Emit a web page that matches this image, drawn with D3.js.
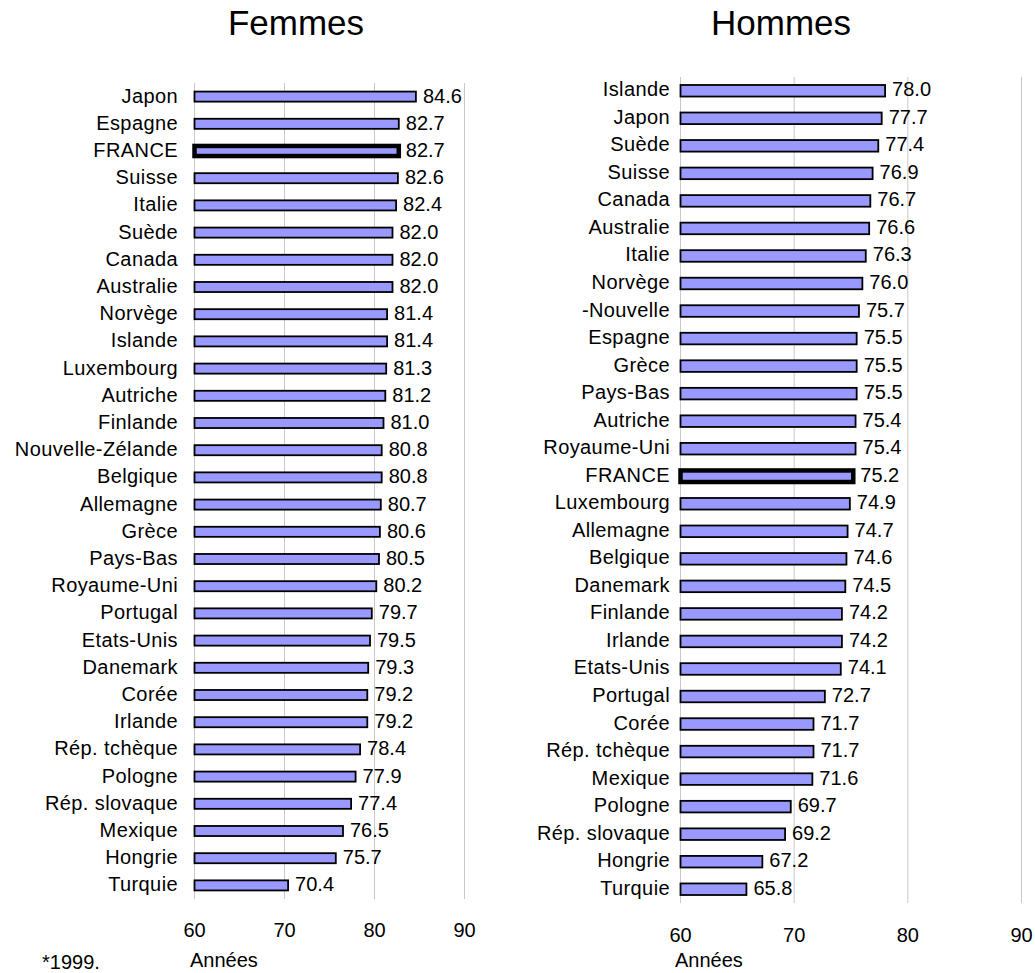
<!DOCTYPE html>
<html><head><meta charset="utf-8">
<script src="https://cdn.jsdelivr.net/npm/d3@7"></script>
<style>
html,body{margin:0;padding:0;background:#fff;}
text{font-family:"Liberation Sans",Arial,sans-serif;fill:#000;}
</style></head>
<body>
<svg id="c" width="1035" height="973"></svg>
<script>
const femmesPays = ["Japon","Espagne","FRANCE","Suisse","Italie","Suède","Canada","Australie","Norvège","Islande","Luxembourg","Autriche","Finlande","Nouvelle-Zélande","Belgique","Allemagne","Grèce","Pays-Bas","Royaume-Uni","Portugal","Etats-Unis","Danemark","Corée","Irlande","Rép. tchèque","Pologne","Rép. slovaque","Mexique","Hongrie","Turquie"];
const femmesValeurs = [84.6,82.7,82.7,82.6,82.4,82.0,82.0,82.0,81.4,81.4,81.3,81.2,81.0,80.8,80.8,80.7,80.6,80.5,80.2,79.7,79.5,79.3,79.2,79.2,78.4,77.9,77.4,76.5,75.7,70.4];
const hommesPays = ["Islande","Japon","Suède","Suisse","Canada","Australie","Italie","Norvège","-Nouvelle","Espagne","Grèce","Pays-Bas","Autriche","Royaume-Uni","FRANCE","Luxembourg","Allemagne","Belgique","Danemark","Finlande","Irlande","Etats-Unis","Portugal","Corée","Rép. tchèque","Mexique","Pologne","Rép. slovaque","Hongrie","Turquie"];
const hommesValeurs = [78.0,77.7,77.4,76.9,76.7,76.6,76.3,76.0,75.7,75.5,75.5,75.5,75.4,75.4,75.2,74.9,74.7,74.6,74.5,74.2,74.2,74.1,72.7,71.7,71.7,71.6,69.7,69.2,67.2,65.8];
const ticks = [60,70,80,90];
const titres = ["Femmes","Hommes"];
const axeTitre = "Années";
const note = "*1999.";
const highlight = "FRANCE";

const svg = d3.select("#c");
const fmt = d3.format(".1f");

function panel(cfg){
  const g = svg.append("g");
  const x = d3.scaleLinear().domain([60,90]).range(cfg.xr);
  const y = d3.scaleBand().domain(cfg.pays).range(cfg.yr).paddingInner(cfg.pi).paddingOuter(cfg.pi/2);
  const data = cfg.pays.map((p,i)=>({p, v:cfg.vals[i]}));
  g.selectAll("line.grid").data(ticks).join("line")
    .attr("x1",d=>x(d)).attr("x2",d=>x(d))
    .attr("y1",cfg.yr[0]).attr("y2",cfg.yr[1])
    .attr("stroke","#c8c8c8").attr("stroke-width",1);
  g.selectAll("rect.bar").data(data).join("rect")
    .attr("x",x(60)).attr("y",d=>y(d.p))
    .attr("width",d=>x(d.v)-x(60)).attr("height",y.bandwidth())
    .attr("fill","#9999ff").attr("stroke","#000")
    .attr("stroke-width",d=>d.p===highlight?4.5:1.8);
  g.selectAll("text.cat").data(data).join("text")
    .attr("x",cfg.labelX).attr("y",d=>y(d.p)+y.bandwidth()/2+cfg.dy)
    .attr("text-anchor","end").attr("font-size",20).attr("letter-spacing",0.4)
    .text(d=>d.p);
  g.selectAll("text.val").data(data).join("text")
    .attr("x",d=>x(d.v)+7).attr("y",d=>y(d.p)+y.bandwidth()/2+cfg.dy)
    .attr("font-size",20)
    .text(d=>fmt(d.v));
  g.selectAll("text.tick").data(ticks).join("text")
    .attr("x",d=>x(d)).attr("y",cfg.tickY)
    .attr("text-anchor","middle").attr("font-size",20)
    .text(d=>d);
  g.append("text").attr("x",cfg.anneesX).attr("y",967).attr("font-size",20).text(axeTitre);
  g.append("text").attr("x",cfg.titleX).attr("y",35).attr("text-anchor","middle").attr("font-size",35).text(cfg.titre);
}

panel({pays:femmesPays, vals:femmesValeurs, xr:[194.5,464.5], yr:[83,899], pi:0.63, labelX:178, dy:6, tickY:937, anneesX:190, titleX:296, titre:titres[0]});
panel({pays:hommesPays, vals:hommesValeurs, xr:[680.5,1021.5], yr:[77,903], pi:0.58, labelX:670, dy:5.5, tickY:942, anneesX:675, titleX:781, titre:titres[1]});

svg.append("text").attr("x",42).attr("y",969).attr("font-size",20).text(note);
</script>
</body></html>
